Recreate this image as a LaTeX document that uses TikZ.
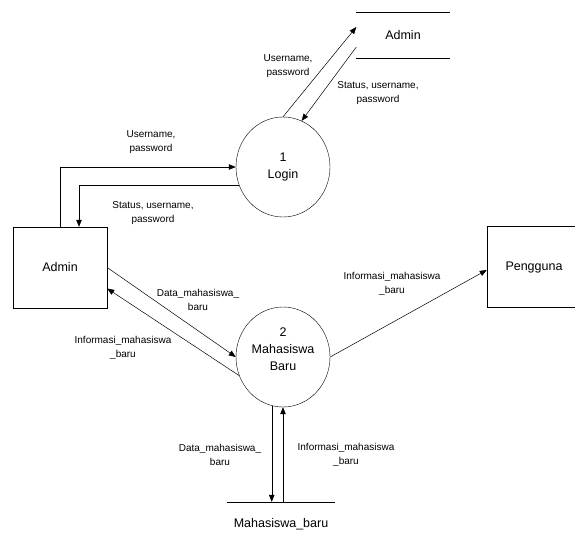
\documentclass[tikz,border=0pt]{standalone}
\usepackage{fontspec}
\setmainfont{Liberation Sans}
\usetikzlibrary{arrows.meta,calc,positioning,shapes.geometric}

\begin{document}
\begin{tikzpicture}[x=1pt,y=-1pt,
process/.style={ellipse,draw,minimum width=94pt,minimum height=100pt,inner sep=0pt,align=center,font=\fontsize{12.5}{17}\selectfont},
entity/.style={rectangle,draw,minimum width=94pt,minimum height=81pt,font=\fontsize{12.5}{15}\selectfont},
store/.style={minimum height=46pt,font=\fontsize{12.5}{15}\selectfont},
lbl/.style={align=center,font=\fontsize{10}{13.5}\selectfont},
flow/.style={-{Triangle[length=7pt,width=5.5pt]},line width=0.5pt}]
\useasboundingbox (0,0) rectangle (575,537);

\node[process] (login) at (283,167) {1\\Login};
\node[process,text depth=15pt] (mhs) at (283,357) {2\\Mahasiswa\\Baru};
\node[entity] (admin) at (60,267.5) {Admin};
\node[entity] (pengguna) at (534,267) {Pengguna};
\node[store,minimum width=93pt] (admstore) at (403,35) {Admin};
\node[store,minimum width=108pt,minimum height=44pt] (mhsstore) at (281,524) {Mahasiswa\_baru};

\draw (admstore.north west) -- (admstore.north east);
\draw (admstore.south west) -- (admstore.south east);
\draw (mhsstore.north west) -- (mhsstore.north east);

\draw[flow] (login.north) -- ([yshift=8pt]admstore.west);
\draw[flow] ([yshift=-12pt]admstore.west) -- (login.68);
\draw[flow] (admin.north) |- (login.west);
\draw[flow] (login.203) -| ([xshift=19pt]admin.north);
\draw[flow] (admin.east) -- (mhs.west);
\draw[flow] (mhs.203) -- ([yshift=-21pt]admin.east);
\draw[flow] (mhs.east) -- ([yshift=-3pt]pengguna.west);
\draw[flow] (mhs.257) -- (mhs.257 |- mhsstore.north);
\draw[flow] (mhs.south |- mhsstore.north) -- (mhs.south);

\node[lbl] (l1) at (288,66) {Username,\\password};
\node[lbl] (l2) at (378,93) {Status, username,\\password};
\node[lbl] (l3) at (151,142) {Username,\\password};
\node[lbl] (l4) at (153,213) {Status, username,\\password};
\node[lbl] (l5) at (198,300) {Data\_mahasiswa\_\\baru};
\node[lbl] (l6) at (123,348) {Informasi\_mahasiswa\\\_baru};
\node[lbl] (l7) at (392,284) {Informasi\_mahasiswa\\\_baru};
\node[lbl] (l8) at (220,455) {Data\_mahasiswa\_\\baru};
\node[lbl] (l9) at (346,455) {Informasi\_mahasiswa\\\_baru};

\end{tikzpicture}
\end{document}
